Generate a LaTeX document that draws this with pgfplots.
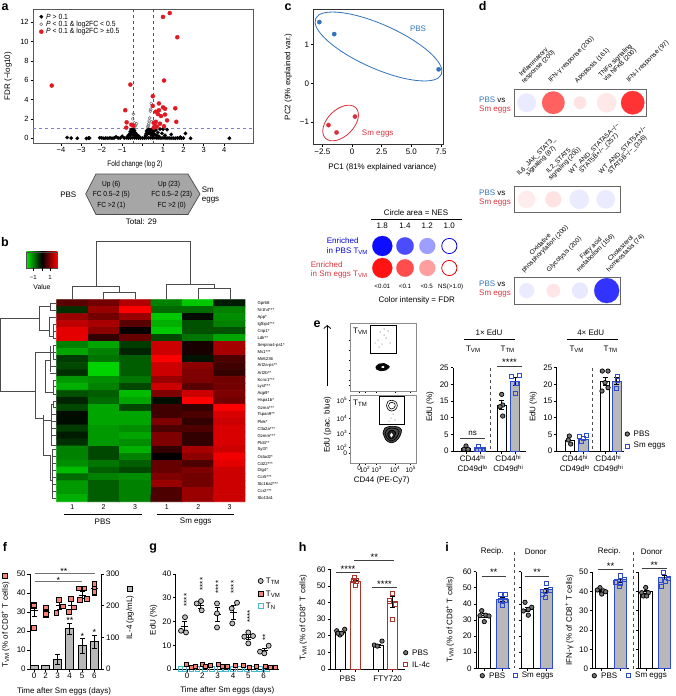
\documentclass[border=0pt]{standalone}
\usepackage{fontspec}
\setmainfont{Liberation Sans}
\usepackage{pgfplots}
\pgfplotsset{compat=1.18}
\usetikzlibrary{shadings,arrows.meta}

\definecolor{bblue}{RGB}{50,115,185}
\definecolor{rred}{RGB}{215,50,60}
\definecolor{smblue}{RGB}{45,75,205}
\definecolor{ilred}{RGB}{175,50,40}
\definecolor{sq}{RGB}{245,130,120}
\definecolor{cy}{RGB}{70,185,205}
\definecolor{gr}{gray}{.72}
\definecolor{dashb}{RGB}{70,70,190}
\definecolor{vred}{RGB}{225,25,35}

\newcommand{\fs}[1]{\fontsize{#1}{#1}\selectfont}
\newcommand{\TVM}{T\textsubscript{VM}}
\newcommand{\TTM}{T\textsubscript{TM}}
\newcommand{\TN}{T\textsubscript{N}}
\newcommand{\tx}[4][]{\node[inner sep=0pt,font=\fs{8},#1] at (#2,#3) {#4};}
\newcommand{\lb}[3]{\node[inner sep=0pt,font=\bfseries\fs{12.5}] at (#1,#2) {#3};}
\newcommand{\sig}[4]{\draw[line width=.6pt,black!75] (#1,#3) -- (#2,#3);
  \node[inner sep=0pt,font=\fs{9.5}] at ({(#1+#2)/2},#3-3.5) {#4};}

% bars, points, error bars (all inside an axis)
\newcommand{\vbar}[3]{\addplot[ybar,#1] coordinates {(#2,#3)};}
\newcommand{\pts}[2]{\addplot[only marks,#1] coordinates {#2};}
\newcommand{\eb}[3]{\addplot[draw=none,mark=none,error bars/.cd,y dir=both,y explicit,
  error bar style={black,line width=.7pt},error mark options={rotate=90,black,mark size=2.5pt}]
  coordinates {(#1,#2) +- (0,#3)};}
\newcommand{\mb}[3]{\eb{#1}{#2}{#3}\addplot[black,line width=.7pt] coordinates {(#1-3.5,#2) (#1+3.5,#2)};}
\newcommand{\bub}[5][]{\addplot[only marks,mark=*,mark size=#4,mark options={fill=#5,draw=#5,line width=.2pt,#1}] coordinates {(#2,#3)};}

\pgfplotsset{
  every axis/.append style={scale only axis,clip=false,tick align=outside,
    major tick length=2.5pt,line width=.7pt,
    tick style={line width=.7pt,black},
    /pgf/number format/assume math mode=true,
    tick label style={font=\fs{8},inner sep=1.5pt}},
  pxbox/.style n args={4}{at={(#1pt,-#4pt)},anchor=south west,
    width={(#2-#1)*1pt},height={(#4-#3)*1pt}},
  pxrange/.style n args={4}{xmin=#1,xmax=#2,ymin=#3,ymax=#4,y dir=reverse},
  open/.style={axis x line*=bottom,axis y line*=left,axis line style={-}},
  bw/.style={bar width=#1pt},
  wb/.style={fill=white,draw=black,line width=.9pt},
  gb/.style={fill=gr,draw=smblue,line width=.9pt},
  rb/.style={fill=white,draw=ilred,line width=.9pt},
  cpbs/.style={mark=*,mark size=2.2pt,mark options={fill=black!55,draw=black,line width=.7pt}},
  ssm/.style={mark=square,mark size=2.1pt,mark options={draw=smblue,line width=.8pt}},
  sil/.style={mark=square,mark size=2.1pt,mark options={draw=ilred,line width=.8pt}},
  rdot/.style={mark=*,mark size=2.1pt,mark options={fill=vred,draw=vred,line width=.2pt}},
  bdot/.style={mark=*,mark size=1.8pt,mark options={fill=black,draw=black,line width=.2pt}},
}

\begin{document}
\begin{tikzpicture}[x=1pt,y=-1pt]
\useasboundingbox (0,0) rectangle (675,696);

%% ---------- a
\begin{axis}[pxbox={33}{253}{9}{143},xmin=-5.37,xmax=5.41,ymin=-.49,ymax=13.37,
  axis line style={black!65,line width=.9pt},
  xtick={-4,-3,-2,-1,0,1,2,3,4},xticklabels={−4,−3,−2,−1,{},1,2,3,4},
  ytick={0,2,4,6,8,10,12},xtick pos=bottom,ytick pos=left,tick label style={font=\fs{7.5}}]
\addplot[dashb,dashed,line width=.8pt] coordinates {(-.46,13.37) (-.46,-.49)};
\addplot[dashb,dashed,line width=.8pt] coordinates {(.52,13.37) (.52,-.49)};
\addplot[dashb!70,dashed,line width=.8pt] coordinates {(-5.37,1) (5.41,1)};
\pts{bdot}{(-3.7,.08)(-3.5,.02)(-3.2,0)(-2.75,-.02)(-2.65,.03)(-2.6,.02)
 (-2.1,.05)(-2,.03)(-1.9,0)(-1.8,.02)(-1.7,0)(-1.6,.03)(-1.5,0)(-1.4,.02)(-1.3,.15)(-1.2,.03)(-1.1,.02)(-1,.2)
 (-.9,.03)(-.8,.05)(-.7,.02)(-.6,.03)(-.5,.05)(-.4,.04)(-.3,.03)(-.2,.02)(-.1,.03)(0,.02)(.1,.03)(.2,.05)(.3,.05)
 (.4,.04)(.5,.03)(.6,.05)(.7,.03)(.8,.03)(.9,.02)(1,.04)(1.1,.03)(1.2,.02)(1.3,.03)(1.4,0)(1.5,.02)(1.6,0)(1.7,.03)
 (1.8,.02)(1.9,0)(2,.02)(2.35,0)(4.25,0)(2.1,.5)
 (-.75,.1)(-.7,.3)(-.65,.2)(-.62,.5)(-.6,.7)(-.58,.35)(-.55,.9)(-.52,.6)(-.5,.8)(-.48,.4)(-.45,.95)(-.42,.6)(-.4,.8)
 (-.38,.3)(-.35,.55)(-.32,.2)(-.3,.4)(-.25,.15)(-.2,.25)(-.15,.1)
 (.12,.1)(.15,.3)(.18,.5)(.2,.75)(.22,.4)(.25,.9)(.28,.6)(.3,.95)(.32,.5)(.35,.8)(.38,.6)(.4,.4)(.42,.9)(.45,.7)(.48,.3)
 (.5,.55)(.55,.75)(.6,.4)(.65,.85)(.7,.3)(.75,.6)(.8,.2)(.85,.95)(.95,.5)(1,.95)(1.1,.3)(1.2,.9)(1.4,.4)(1.85,.12)}
\pts{mark=o,mark size=1.5pt,mark options={black!55,line width=.5pt}}{(-.45,2.5)(-.48,2)(-.4,1.6)(-.35,1.3)(-.3,1.5)(-.42,1.2)
 (.42,3.6)(.4,3)(.38,2.8)(.35,2.1)(.32,1.8)(.3,1.5)(.28,1.3)(.25,1.2)(.45,1.7)}
\pts{rdot}{(-4.45,5.45)(1,12.55)(1.33,12.95)(1.7,10.45)(1.05,5.97)
 (-.6,5.55)(.5,4.35)(.8,3.6)(.5,3.35)(1,3.2)(1.1,3.05)(.65,2.75)(.8,2.9)(1.6,3.1)(-.85,2.9)(.75,2.5)(.9,2.3)(1.1,2.45)
 (1.2,1.85)(1.65,1.7)(-.78,1.65)(-.8,1.1)(-.55,1.4)(.85,1.5)(1.05,1.25)(.55,1.6)(.6,1.3)(.65,1.7)(.7,1.2)(.55,1.1)(-.45,1.3)}
\end{axis}
\begin{axis}[pxbox={33}{253}{9}{143},pxrange={33}{253}{9}{143},hide axis]
\pts{bdot}{(41.3,16.7)}
\pts{mark=o,mark size=1.5pt,mark options={black!55,line width=.5pt}}{(41.3,24.3)}
\pts{rdot}{(41.3,31.7)}
\end{axis}
\tx[anchor=west,font=\fs{7.5},xscale=.91]{46}{16.7}{\textit{P} > 0.1}
\tx[anchor=west,font=\fs{7.5},xscale=.91]{46}{24.3}{\textit{P} < 0.1 \& log2FC < 0.5}
\tx[anchor=west,font=\fs{7.5},xscale=.91]{46}{31.7}{\textit{P} < 0.1 \& log2FC > ±0.5}
\tx[rotate=90]{8}{76}{FDR (−log10)}
\tx[xscale=.8]{135}{164.7}{Fold change (log 2)}
\draw[black!70,fill=black!35,line width=.7pt] (96,174) -- (188,174) -- (200,194) -- (188,214.5) -- (96,214.5) -- (85.7,194) -- cycle;
\tx[font=\fs{7.4},xscale=.89]{111.3}{184.3}{Up (6)}
\tx[font=\fs{7.4},xscale=.89]{111.3}{194.3}{FC 0.5–2 (5)}
\tx[font=\fs{7.4},xscale=.89]{111.3}{206}{FC >2 (1)}
\tx[font=\fs{7.4},xscale=.89]{169}{184.3}{Up (23)}
\tx[font=\fs{7.4},xscale=.89]{171.7}{194.3}{FC 0.5–2 (23)}
\tx[font=\fs{7.4},xscale=.89]{171.7}{206}{FC >2 (0)}
\tx{68.3}{194.7}{PBS}
\tx[anchor=west]{201.7}{189.3}{Sm}
\tx[anchor=west]{201.7}{200}{eggs}
\tx{141.3}{221.7}{Total: 29}

%% ---------- b
\begin{axis}[pxbox={56.7}{245}{299.7}{501.7},xmin=-.5,xmax=5.5,ymin=-.5,ymax=28.5,y dir=reverse,hide axis,
  colormap={gbr}{rgb255=(0,235,0) rgb255=(0,0,0) rgb255=(255,0,0)},colormap name=gbr,
  point meta min=-1,point meta max=1]
\addplot[matrix plot*,mesh/cols=6,point meta=explicit] table[meta=c,row sep=\\] {
x y c\\
0 0 .35\\1 0 .45\\2 0 .7\\3 0 -.55\\4 0 -.85\\5 0 -.12\\
0 1 -.2\\1 1 .6\\2 1 1\\3 1 -.45\\4 1 -.45\\5 1 -.55\\
0 2 .6\\1 2 .45\\2 2 .6\\3 2 -.85\\4 2 -.05\\5 2 -.6\\
0 3 .75\\1 3 .65\\2 3 .35\\3 3 -.75\\4 3 -.35\\5 3 -.55\\
0 4 .9\\1 4 .55\\2 4 .03\\3 4 -.85\\4 4 -.35\\5 4 -.35\\
0 5 .9\\1 5 .2\\2 5 .4\\3 5 -.3\\4 5 -.5\\5 5 -.7\\
0 6 -.55\\1 6 -.7\\2 6 -.25\\3 6 .8\\4 6 .1\\5 6 .65\\
0 7 -.7\\1 7 -.55\\2 7 -.15\\3 7 .8\\4 7 .1\\5 7 .65\\
0 8 -.25\\1 8 -.5\\2 8 -.4\\3 8 1\\4 8 -.08\\5 8 .3\\
0 9 -.3\\1 9 -.9\\2 9 -.4\\3 9 .8\\4 9 .55\\5 9 .25\\
0 10 -.2\\1 10 -.9\\2 10 -.4\\3 10 .8\\4 10 .5\\5 10 .2\\
0 11 -.65\\1 11 -.6\\2 11 -.5\\3 11 .6\\4 11 .5\\5 11 .45\\
0 12 -.75\\1 12 -.55\\2 12 -.3\\3 12 .8\\4 12 .35\\5 12 .45\\
0 13 -.35\\1 13 -.4\\2 13 -.8\\3 13 .5\\4 13 .8\\5 13 .5\\
0 14 -.15\\1 14 -.45\\2 14 -.7\\3 14 -.06\\4 14 1\\5 14 .45\\
0 15 -.3\\1 15 -.7\\2 15 -.3\\3 15 .25\\4 15 .2\\5 15 1\\
0 16 -.05\\1 16 -.7\\2 16 -.7\\3 16 .25\\4 16 .3\\5 16 .85\\
0 17 -.05\\1 17 -.7\\2 17 -.7\\3 17 .5\\4 17 .2\\5 17 .8\\
0 18 -.25\\1 18 -.65\\2 18 -.6\\3 18 .3\\4 18 .3\\5 18 .85\\
0 19 -.12\\1 19 -.65\\2 19 -.7\\3 19 .5\\4 19 .2\\5 19 .85\\
0 20 -.2\\1 20 -.65\\2 20 -.6\\3 20 .5\\4 20 .2\\5 20 .85\\
0 21 -.55\\1 21 -.3\\2 21 -.75\\3 21 .2\\4 21 .65\\5 21 .8\\
0 22 -.55\\1 22 -.3\\2 22 -.55\\3 22 0\\4 22 .55\\5 22 .95\\
0 23 -.6\\1 23 -.5\\2 23 -.4\\3 23 .4\\4 23 .3\\5 23 .9\\
0 24 -.8\\1 24 -.4\\2 24 -.3\\3 24 .4\\4 24 .5\\5 24 .8\\
0 25 -.45\\1 25 -.55\\2 25 -.6\\3 25 .5\\4 25 .45\\5 25 .8\\
0 26 -.65\\1 26 -.4\\2 26 -.55\\3 26 .6\\4 26 .45\\5 26 .8\\
0 27 -.65\\1 27 -.4\\2 27 -.55\\3 27 .3\\4 27 .6\\5 27 .8\\
0 28 -.75\\1 28 -.4\\2 28 -.55\\3 28 .3\\4 28 .6\\5 28 .8\\
};
\end{axis}
% dendrograms
\begin{scope}[line width=.55pt,black!70]
\draw (72.3,299.3) |- (119.3,286) -- (119.3,292.3);
\draw (103.5,299.3) |- (135,292.3) -- (135,299.3);
\draw (96,286) |- (190.7,241) -- (190.7,284);
\draw (166.7,299.3) |- (214.3,284) -- (214.3,288.3);
\draw (198.3,299.3) |- (230,288.3) -- (230,299.3);
\draw (39.3,318.3) -| (0.4,391.7) -- (35.7,391.7);
\draw (56,303.2) -| (50,310.2) -- (56,310.2);
\draw (50,306.7) -| (39.3,330) -- (49.3,330);
\draw (56,317.1) -| (49.3,336) -- (53,336);
\draw (56,324.1) -| (53,338) -- (56,338);
\draw (56,331.1) -- (53,331.1);
\draw (50,352) -| (35.7,418) -- (43,418);
\draw (56,345) -| (53,359) -- (56,359);
\draw (56,352) -- (53,352);
\draw (53,352) -- (50,352);
\draw (50,346) -- (50,372);
\draw (56,365.9) -- (50,365.9);
\draw (56,372.9) -- (50,372.9);
\draw (56,386) -- (53,386);
\draw (50,360) -- (45,360) -- (45,392) -- (53,392);
\draw (56,393.8) -| (53,379.9) -- (56,379.9);
\draw (43,418) -- (43,455) -- (50,455);
\draw (43,418) -- (43,415);
\draw (56,400.8) -| (53,407.7) -- (56,407.7);
\draw (53,404) -- (51,404) -- (51,445) -- (56,445);
\draw (43,420) -- (51,420);
\draw (56,414.7) -- (52,414.7);
\draw (56,421.7) -- (52,421.7);
\draw (56,428.6) -- (52,428.6);
\draw (56,435.6) -- (52,435.6);
\draw (56,449.5) -| (52.5,498.3) -- (56,498.3);
\draw (50,455) -- (50,480) -- (52.5,480);
\draw (56,456.5) -- (52.5,456.5);
\draw (56,463.5) -- (52.5,463.5);
\draw (56,470.4) -- (52.5,470.4);
\draw (56,477.4) -- (52.5,477.4);
\draw (56,484.4) -- (52.5,484.4);
\draw (56,491.4) -- (52.5,491.4);
\end{scope}
\shade[left color=green!90!black,right color=red,middle color=black,draw=black!70,line width=.4pt] (26.3,251.7) rectangle (57.3,267.7);
\foreach \xx in {33.3,41.7,50} {\draw[line width=.4pt] (\xx,267.7) -- (\xx,270.5);}
\tx[font=\fs{6}]{33.3}{277.7}{−1}
\tx[font=\fs{6}]{50}{277.7}{1}
\tx[font=\fs{6.9}]{42}{287}{Value}
\foreach \gn [count=\ii from 0] in {Gpr68,Nr1h4***,App*,Igfbp4***,Crip1*,Ldlr**,Serpina4-ps1*,Ms1***,Mir6236,Art2a-ps**,Art2b**,Kcnc1***,Lyst***,Aqp9*,Hspa1b*,Gzma***,Tspan9**,Plek*,Ctla2a***,Gzmm***,Pld4**,Syt3*,Oclad2*,Cd22***,Dlg4*,Ccr5***,Slc16a2***,Ccr2***,Slc43a1}
 {\node[inner sep=0pt,anchor=west,font=\fs{4.3}] at (257.3,{303.2+6.97*\ii}) {\gn};}
\foreach \xx/\tt in {72.3/1,103.5/2,135/3,166.8/1,198.3/2,229.5/3} {\tx[font=\fs{7}]{\xx}{507.3}{\tt}}
\draw[line width=.5pt] (64,514.3) -- (141.7,514.3) (156.7,514.3) -- (234.3,514.3);
\tx{102.7}{521.7}{PBS}
\tx{195.7}{521.7}{Sm eggs}

%% ---------- c
\begin{axis}[pxbox={313.3}{443.3}{9.3}{144.3},xmin=-3.26,xmax=7.69,ymin=-1.576,ymax=1.91,
  axis line style={black!80},xtick={-2.5,0,2.5,5,7.5},xticklabels={−2.5,0,2.5,5.0,7.5},
  ytick={-1,0,1},yticklabels={−1,0,1},xtick pos=bottom,ytick pos=left]
\pts{mark=*,mark size=2.2pt,mark options={fill=bblue,draw=bblue,line width=.2pt}}{(-2.75,1.58)(-1.5,1.27)(7.3,.36)}
\pts{mark=*,mark size=2.2pt,mark options={fill=rred,draw=rred,line width=.2pt}}{(.25,-.86)(-1.98,-1.08)(-1.3,-1.27)}
\end{axis}
\draw[bblue,line width=.8pt,rotate around={-24:(378.5,46.5)}] (378.5,46.5) ellipse [x radius=68.8,y radius=22];
\draw[rred,line width=.8pt,rotate around={45:(340.6,123)}] (340.6,123) ellipse [x radius=21.5,y radius=13.2];
\tx[rotate=90]{288.3}{77}{PC2 (9\% explained var.)}
\tx{382.4}{167.3}{PC1 (81\% explained variance)}
\tx[text=bblue]{418}{29}{PBS}
\tx[text=rred]{377.7}{134}{Sm eggs}

\tx{416}{212.3}{Circle area = NES}
\draw[line width=.7pt] (371,219.7) -- (461.7,219.7);
\foreach \xx/\tt in {382.3/1.8,405/1.4,427.3/1.2,449.3/1.0} {\tx{\xx}{225.7}{\tt}}
\begin{axis}[pxbox={370}{462}{235}{280},pxrange={370}{462}{235}{280},hide axis]
\bub{382.3}{246}{10}{blue!95}
\bub{405}{246}{8.7}{blue!70}
\bub{427.3}{246}{8}{blue!38}
\bub[draw=blue!90!black,line width=.8pt]{449.3}{246}{7.6}{white}
\bub{382.3}{268}{10}{red!92}
\bub{405}{268}{8.7}{red!70}
\bub{427.3}{268}{8}{red!38}
\bub[draw=red!90!black,line width=.8pt]{449.3}{268}{7.6}{white}
\end{axis}
\tx[anchor=west,text=blue!85!black]{326.7}{241}{Enriched}
\tx[anchor=west,text=blue!85!black]{326.7}{251}{in PBS \TVM}
\tx[anchor=west,text=rred]{310.7}{264.3}{Enriched}
\tx[anchor=west,text=rred]{310.7}{274.3}{in Sm eggs \TVM}
\foreach \xx/\tt in {382.3/{<0.01},405/{<0.1},426.7/{<0.5},450.7/{NS(>1.0)}} {\tx[font=\fs{6.2}]{\xx}{286.7}{\tt}}
\tx{416.7}{300.3}{Color intensity = FDR}

%% ---------- d
\newcommand{\dlab}[3]{\node[inner sep=0pt,anchor=south west,rotate=45,align=center,font=\fs{6.5}] at (#1,#2) {#3};}
\begin{axis}[pxbox={514}{646}{89.3}{116},pxrange={514}{646}{89.3}{116},ticks=none,axis line style={black!60,line width=.9pt}]
\bub{526.7}{102.7}{9.3}{blue!8}
\bub{553.3}{102.7}{11.3}{red!62}
\bub{580}{102.7}{6.3}{red!11}
\bub{606.7}{102.7}{9.7}{red!9}
\bub{632.7}{102.7}{11.7}{red!80}
\end{axis}
\begin{axis}[pxbox={514}{620.7}{186}{212.7},pxrange={514}{620.7}{186}{212.7},ticks=none,axis line style={black!60,line width=.9pt}]
\bub{526.7}{199.3}{8.7}{red!7}
\bub{553.3}{199.3}{8}{red!11}
\bub{579.3}{199.3}{9.7}{blue!8}
\bub{605.7}{199.3}{9.3}{blue!8}
\end{axis}
\begin{axis}[pxbox={514}{620.7}{277.3}{304},pxrange={514}{620.7}{277.3}{304},ticks=none,axis line style={black!60,line width=.9pt}]
\bub{526.7}{290.6}{7.5}{blue!8}
\bub{553.3}{290.6}{6.7}{red!10}
\bub{580}{290.6}{8}{blue!9}
\bub{606.7}{290.6}{12.5}{blue!80}
\end{axis}
\dlab{525}{85}{Inflammatory\\response (200)}
\dlab{551.7}{84}{IFN-γ response (200)}
\dlab{578.3}{84.3}{Apoptosis (161)}
\dlab{606.7}{83.3}{TNFα signaling\\via NFκB (200)}
\dlab{630}{84}{IFN-I response (97)}
\dlab{525}{181.7}{IL6\_JAK\_STAT3\_\\signaling (87)}
\dlab{551.7}{181.7}{IL2\_STAT5\_\\signaling (200)}
\dlab{577}{180}{WT\_AND\_STATA5A−/−\\STAT5B+/−\_(257)}
\dlab{607}{180}{WT\_AND\_STAT5A+/−\\STAT5B−/−\_(336)}
\dlab{525}{274}{Oxidative\\phosphorylation (200)}
\dlab{550}{273.3}{Glycolysis (200)}
\dlab{580}{273.3}{Fatty acid\\metabolism (156)}
\dlab{610}{273.3}{Cholesterol\\homeostasis (74)}
\foreach \yy in {99.3,192.7,283.7} {\tx[anchor=west]{479}{\yy}{\textcolor{bblue}{PBS} vs}}
\foreach \yy in {110,202.7,294} {\tx[anchor=west,text=rred]{479}{\yy}{Sm eggs}}

%% ---------- e flow plots
\begin{axis}[pxbox={350}{416.7}{323.3}{391.3},pxrange={350}{416.7}{323.3}{391.3},axis line style={black!45,line width=1pt},
  xtick={359.3,365,376.7,395,410.7},xticklabels={},ytick={340,350,360,370,380,385},yticklabels={},
  xtick pos=bottom,ytick pos=left,major tick length=1.5pt]
\addplot[black,line width=.7pt] coordinates {(370.7,325.3)(396,325.3)(396,353.7)(370.7,353.7)(370.7,325.3)};
\pts{mark=*,mark size=.25pt,black!35}{(380,332)(384,335)(388,331)(378,340)(382,344)(386,338)(379,347)(375,343)(390,343)(384,329)}
\addplot[black,fill=black,smooth,tension=1] coordinates {(376,367)(379,364)(384,363.5)(388,365.5)(389,367.5)(386,370)(381,370.8)(377,369.5)(376,367)};
\addplot[white,fill=white,smooth] coordinates {(381.5,367)(383,366.3)(384,367)(383,367.8)(381.5,367)};
\end{axis}
\begin{axis}[pxbox={350}{416.7}{395.3}{463.3},pxrange={350}{416.7}{395.3}{463.3},axis line style={black!45,line width=1pt},
  xtick={359.3,365,376.7,395,410.7},xticklabels={0,10\textsuperscript{2},10\textsuperscript{3},10\textsuperscript{4},10\textsuperscript{5}},
  ytick={400.7,418,433.7,447.3,453.7},yticklabels={10\textsuperscript{5},10\textsuperscript{4},10\textsuperscript{3},10\textsuperscript{2},0},
  xtick pos=bottom,ytick pos=left,major tick length=1.5pt,tick label style={font=\fs{6.6},inner sep=1pt}]
\addplot[black,line width=.7pt] coordinates {(379,396.3)(404.7,396.3)(404.7,424.7)(379,424.7)(379,396.3)};
\addplot[black,smooth,line width=.6pt] coordinates {(386.5,405.5)(388,401.5)(392,400.3)(396,402)(397.3,405.7)(395.5,409.5)(391.5,411)(388,409.3)(386.5,405.5)};
\addplot[black,smooth,line width=.6pt] coordinates {(388.5,405.5)(390,402.8)(392.3,402.3)(394.8,403.5)(395.2,405.8)(394,408)(391.5,409)(389.5,408)(388.5,405.5)};
\pts{mark=*,mark size=.25pt,black!35}{(393,414)(391,418)(389,421)(395,420)}
\addplot[black,fill=black!70,smooth,line width=.7pt] coordinates {(383,433)(385,428)(391,426.3)(398,427)(401.5,430)(400,436)(396,441)(391,442.8)(386,440)(383,433)};
\addplot[black,smooth,line width=.7pt] coordinates {(385,433.5)(387,429.5)(392,428)(397.5,429.3)(399,431.5)(397.5,436)(394,440)(391,441)(387,438)(385,433.5)};
\addplot[black,fill=black!85,smooth] coordinates {(387.5,434)(389.5,431)(393,430.5)(395.5,432.5)(394.5,436.5)(391.5,439)(389,437.5)(387.5,434)};
\addplot[white,fill=white,smooth] coordinates {(390.5,435)(391.5,433.5)(392.5,435)(391.5,436.8)(390.5,435)};
\end{axis}
\tx[anchor=west]{353}{331}{\TVM}
\tx[anchor=west]{353}{403}{\TTM}
\draw[-{Straight Barb[length=3pt,width=7pt]},line width=.8pt] (327.3,386) -- (327.3,325);
\tx[rotate=90]{327.5}{424.7}{EdU (pac. blue)}
\tx{381.7}{480}{CD44 (PE-Cy7)}

%% ---------- e bars
\begin{axis}[pxbox={453}{526}{367.7}{451},xmin=453,xmax=526,ymin=0,ymax=25,open,bw=9.5,
  xtick={466,480,501.7,515},xticklabels={},ytick={0,5,10,15,20,25}]
\vbar{wb}{466}{.9}\vbar{gb}{480}{.8}\vbar{wb}{501.7}{13.8}\vbar{gb}{515}{21}
\eb{501.7}{13.8}{1.3}\eb{515}{21}{1.3}
\pts{cpbs}{(466,1.5)(464,.5)(468,.5)(501.7,17)(502.7,13.8)(500,13.3)(502.7,10.5)}
\pts{ssm}{(478.5,1.5)(476.5,.5)(480.5,.5)(483,.5)(519,22.7)(511.7,22.3)(516.7,20.3)(515,17.3)}
\end{axis}
\begin{axis}[pxbox={556.7}{624}{367.7}{451},xmin=556.7,xmax=624,ymin=0,ymax=25,open,bw=9.5,
  xtick={570,583.3,605,616.7},xticklabels={},ytick={0,5,10,15,20,25}]
\vbar{wb}{570}{3.3}\vbar{gb}{583.3}{3.5}\vbar{wb}{605}{21}\vbar{gb}{616.7}{21}
\eb{605}{21}{1.3}\eb{616.7}{21}{1}
\pts{cpbs}{(569.3,4.5)(568.3,3.3)(570.7,2.1)(602.3,24)(608,24)(605,20.5)(608,19)(602,18)}
\pts{ssm}{(579,4.3)(586,4.7)(583.3,3.8)(581.3,2.8)(617.7,22.3)(617.7,21.3)(616.7,18.8)}
\end{axis}
\draw[black!70,dashed,line width=.9pt] (490.7,367.7) -- (490.7,451) (592.7,367.7) -- (592.7,451);
\tx{489}{332.3}{1× EdU}
\draw[line width=.7pt] (464,339.3) -- (515.3,339.3) (566.7,339.3) -- (617.7,339.3);
\tx{590.7}{332.3}{4× EdU}
\tx{473.3}{349.3}{\TVM}\tx{507.7}{349.3}{\TTM}\tx{576.7}{349.3}{\TVM}\tx{610.7}{349.3}{\TTM}
\sig{460}{485}{438}{}\tx{472.7}{433.3}{ns}
\sig{497.3}{521.7}{366}{****}
\tx[rotate=90]{430}{406.7}{EdU (\%)}
\tx[rotate=90]{533.3}{406.7}{EdU (\%)}
\foreach \xx in {472.7,508.3,575,608.3} {\tx{\xx}{458.3}{CD44\textsuperscript{hi}}}
\tx{472.7}{468.3}{CD49d\textsuperscript{lo}}\tx{508.3}{468.3}{CD49d\textsuperscript{hi}}
\tx{575}{468.3}{CD49d\textsuperscript{lo}}\tx{608.3}{468.3}{CD49d\textsuperscript{hi}}
\begin{axis}[pxbox={620}{635}{428}{452},pxrange={620}{635}{428}{452},hide axis]
\pts{cpbs}{(627.3,434)}\pts{ssm}{(627.3,446)}
\end{axis}
\tx[anchor=west]{633.5}{434}{PBS}
\tx[anchor=west]{633.5}{446}{Sm eggs}

%% ---------- f
\begin{axis}[pxbox={30}{101.7}{574}{669},xmin=30,xmax=101.7,ymin=0,ymax=300,
  axis x line=none,axis y line*=right,axis line style={-},ytick={0,100,200,300},bw=8]
\vbar{fill=gr,draw=black,line width=.8pt}{34}{10}
\vbar{fill=gr,draw=black,line width=.8pt}{45.7}{10}
\vbar{fill=gr,draw=black,line width=.8pt}{57.7}{31}
\vbar{fill=gr,draw=black,line width=.8pt}{69.7}{128}
\vbar{fill=gr,draw=black,line width=.8pt}{82}{74}
\vbar{fill=gr,draw=black,line width=.8pt}{94.3}{86}
\eb{57.7}{31}{16}\eb{69.7}{128}{17}\eb{82}{74}{24}\eb{94.3}{86}{21}
\end{axis}
\begin{axis}[pxbox={30}{101.7}{574}{669},xmin=30,xmax=101.7,ymin=0,ymax=50,open,
  xtick={34,45.7,57.7,69.7,82,94.3},xticklabels={0,2,3,4,5,6},ytick={0,10,20,30,40,50}]
\mb{34}{31}{3}\mb{46}{30}{1}\mb{59}{33.5}{2}\mb{71}{33.5}{2}\mb{82.5}{39}{1.7}\mb{94.3}{42.5}{1.2}
\pts{mark=square*,mark size=2.4pt,mark options={fill=sq,draw=black,line width=.6pt}}{(34,34)(34,33)(34,33.5)(34,21.5)
 (46,32.5)(46,29.5)(46,28.5)(46,29)
 (56.3,29.5)(59,36.5)(63,33)
 (69,30)(70.7,37)(74,32.5)
 (80,36.5)(78.7,42.5)(84.3,42.5)(86.7,37)
 (94.3,40)(94.3,42.5)(94.3,45)(94.3,40.5)}
\end{axis}
\draw[black!55,line width=.7pt] (35,573.3) -- (95,573.3);
\draw[black!55,line width=.7pt] (35,581) -- (82,581);
\tx[font=\fs{9}]{64}{571.3}{**}\tx[font=\fs{9}]{58.5}{580}{*}
\tx[font=\fs{9}]{70}{620.1}{**}\tx[font=\fs{9}]{82.5}{636.8}{*}\tx[font=\fs{9}]{94.5}{632.5}{*}
\begin{axis}[pxbox={0}{135}{570}{600},pxrange={0}{135}{570}{600},hide axis]
\pts{mark=square*,mark size=2.4pt,mark options={fill=sq,draw=black,line width=.6pt}}{(5,576)}
\pts{mark=square*,mark size=2.4pt,mark options={fill=gr,draw=black,line width=.6pt}}{(129.5,589)}
\end{axis}
\tx[rotate=90]{5.5}{625}{\TVM{} (\% of CD8\textsuperscript{+} T cells)}
\tx[rotate=90]{130}{617.5}{IL-4 (pg/mL)}
\tx{64}{691.3}{Time after Sm eggs (days)}

%% ---------- g
\begin{axis}[pxbox={175.7}{279}{574}{669},xmin=175.7,xmax=279,ymin=0,ymax=40,open,
  xtick={187,202.3,217.7,233,248.3,263.7},xticklabels={0,2,3,4,5,6},ytick={0,10,20,30,40}]
\pts{mark=square,mark size=2.2pt,mark options={draw=cy,line width=.8pt}}{(180.3,.1)(184.3,0)(191.3,0)(197.3,0)(205,0)(212,0)(220,0)(226,0)(233,0)(240,0)(247,0)(254,0)(260,0)(266.7,0)}
\mb{184}{18}{2.2}\mb{200}{27}{1.2}\mb{217}{23}{3}\mb{233.5}{24}{3}\mb{248.3}{13.5}{1}\mb{264.3}{7.7}{1}
\pts{mark=*,mark size=2.5pt,mark options={fill=black!25,draw=black,line width=.7pt}}{(181,16.1)(185,21.8)(186,15.4)
 (196.7,27.6)(201,28.6)(201.7,24.7)
 (217,27.6)(217,23.4)(217,17.5)
 (231.7,25.5)(232.3,19.2)(237,27.9)
 (244.3,13.6)(248.3,15.4)(248.3,10.8)(253,13.9)
 (260,7.3)(264.3,6.6)(268.7,9.8)}
\pts{mark=square*,mark size=2pt,mark options={fill=sq,draw=black,line width=.6pt}}{(186.7,2.1)(191,.6)(195,1)(202.3,1.8)(205.7,1)(210.7,1.4)(218.3,1.8)(222.7,1)(227.7,1.3)(235.7,1.5)(243.7,1.4)(249.7,.8)(256,1)(265,1)(270.3,.7)(275,.6)}
\end{axis}
\begin{axis}[pxbox={255}{268}{575}{612},pxrange={255}{268}{575}{612},hide axis]
\pts{mark=*,mark size=2.5pt,mark options={fill=black!25,draw=black,line width=.7pt}}{(260.7,581)}
\pts{mark=square*,mark size=2.4pt,mark options={fill=sq,draw=black,line width=.6pt}}{(260.7,593.7)}
\pts{mark=square,mark size=2.4pt,mark options={draw=cy,line width=.8pt}}{(260.7,606)}
\end{axis}
\tx[anchor=west]{265.7}{581.5}{\TTM}\tx[anchor=west]{265.7}{594.2}{\TVM}\tx[anchor=west]{265.7}{606.5}{\TN}
\foreach \xx/\yy/\ss in {185/600/****,201/584/****,216.7/587/****,232/587/****,248.3/616.7/****,263.7/637/**}
 {\node[inner sep=0pt,rotate=90,font=\fs{8}] at (\xx+1.6,\yy) {\ss};}
\tx[rotate=90]{153.5}{620}{EdU (\%)}
\tx{227.3}{690.7}{Time after Sm eggs (days)}

%% ---------- h
\begin{axis}[pxbox={330}{405}{569.3}{669},xmin=330,xmax=405,ymin=0,ymax=60,open,bw=10,
  xtick={340.3,355,378.3,392.7},xticklabels={},ytick={0,10,20,30,40,50,60}]
\vbar{wb}{340.3}{22}\vbar{rb}{355}{52.5}\vbar{wb}{378.3}{14}\vbar{rb}{392.7}{40.5}
\eb{340.3}{22}{1}\eb{355}{52.5}{1}\eb{378.3}{14}{1}\eb{392.7}{40.5}{3.3}
\pts{cpbs}{(336.7,23)(340,20.5)(344.7,23.9)(338,21.5)(341.7,21.5)(374.3,14.4)(377.3,13.8)(382,16.8)}
\pts{sil}{(354.3,55)(353.3,53.5)(356.7,53)(355,50.5)(392.7,45.5)(389,41)(395,39)(392.7,30)}
\end{axis}
\sig{336}{360}{572.3}{****}
\sig{354.3}{394.3}{560.3}{**}
\sig{372.3}{396.7}{587.3}{****}
\tx[rotate=90]{303}{618}{\TVM{} (\% of CD8\textsuperscript{+} T cells)}
\tx{347.7}{679}{PBS}\tx{387.7}{679}{FTY720}
\begin{axis}[pxbox={400}{412}{648}{670},pxrange={400}{412}{648}{670},hide axis]
\pts{cpbs}{(405.7,652.7)}\pts{sil}{(405.7,664.3)}
\end{axis}
\tx[anchor=west]{412}{652.7}{PBS}\tx[anchor=west]{412}{664.7}{IL-4c}

%% ---------- i
\begin{axis}[pxbox={476}{510}{571.7}{668.3},xmin=476,xmax=510,ymin=0,ymax=60,open,bw=12,
  xtick={484.3,502.7},xticklabels={},ytick={0,10,20,30,40,50,60}]
\vbar{wb}{484.3}{33}\vbar{gb}{502.7}{43}\eb{484.3}{33}{1}\eb{502.7}{43}{1.2}
\pts{cpbs}{(481.7,35.8)(485.7,33)(489,32.5)(480,32.7)(484.3,29)}
\pts{ssm}{(500,46)(505.7,46)(500,42)(505.7,42)(502.7,39)}
\end{axis}
\begin{axis}[pxbox={521}{551.7}{571.7}{668.3},xmin=521,xmax=551.7,ymin=0,ymax=60,open,bw=12,
  xtick={527.7,546},xticklabels={},ytick={0,10,20,30,40,50,60},yticklabels={}]
\vbar{wb}{527.7}{36.6}\vbar{gb}{546}{48.7}\eb{527.7}{36.6}{1.2}\eb{546}{48.7}{1.3}
\pts{cpbs}{(525,41)(531.7,37.9)(528.3,36.6)(523.3,35.6)(528.3,33)}
\pts{ssm}{(546,52.8)(550,48.7)(545.7,47.6)(542.7,46)(545,44)}
\end{axis}
\begin{axis}[pxbox={592.3}{629.3}{572}{668.7},xmin=592.3,xmax=629.3,ymin=0,ymax=50,open,bw=12,
  xtick={601.7,620.3},xticklabels={},ytick={0,10,20,30,40,50}]
\vbar{wb}{601.7}{40.2}\vbar{gb}{620.3}{45.9}\eb{601.7}{40.2}{.6}\eb{620.3}{45.9}{1}
\pts{cpbs}{(600,41.9)(603.3,40.3)(605.7,39.8)(601.7,38.6)(597.3,40.7)}
\pts{ssm}{(620,48)(624,46.2)(615,44.7)(620,44.1)(619.3,42.4)}
\end{axis}
\begin{axis}[pxbox={638.3}{670}{572}{668.7},xmin=638.3,xmax=670,ymin=0,ymax=50,open,bw=12,
  xtick={646,664},xticklabels={},ytick={0,10,20,30,40,50},yticklabels={}]
\vbar{wb}{646}{39.7}\vbar{gb}{664}{47.2}\eb{646}{39.7}{.7}\eb{664}{47.2}{1}
\pts{cpbs}{(645.7,42)(641.7,39.3)(648.3,39.3)(643.3,37.6)(646.7,37.6)}
\pts{ssm}{(663.7,49.7)(668.3,46.7)(660,45.9)(665,45)(661.7,42.4)}
\end{axis}
\draw[black!70,dashed,line width=.9pt] (514.3,551.7) -- (514.3,668.3) (633.3,551.7) -- (633.3,668.7);
\tx{492.3}{551.3}{Recip.}\tx{535.7}{551.3}{Donor}\tx{609.3}{551.3}{Recip.}\tx{651.7}{551.3}{Donor}
\sig{481.7}{505.7}{576}{**}\sig{525}{549}{576}{**}\sig{598.3}{622.7}{569.7}{**}\sig{641.7}{666.7}{568.3}{**}
\tx[rotate=90]{450}{620}{\TVM{} (\% of CD8\textsuperscript{+} T cells)}
\tx[rotate=90]{569.5}{620}{IFN-γ (\% of CD8\textsuperscript{+} T cells)}
\begin{axis}[pxbox={478}{635}{670}{682},pxrange={478}{635}{670}{682},hide axis]
\pts{cpbs}{(482.3,675.7)(594.3,675.7)}\pts{ssm}{(515.7,675.7)(628.3,675.7)}
\end{axis}
\tx[anchor=west]{489}{676}{PBS}\tx[anchor=west]{521.7}{676}{Sm eggs}
\tx[anchor=west]{601}{676}{PBS}\tx[anchor=west]{635}{676}{Sm eggs}

%% ---------- panel letters
\lb{5}{7}{a}\lb{5}{242}{b}\lb{288}{7}{c}\lb{482.7}{6}{d}\lb{317}{324}{e}\lb{5}{546.7}{f}\lb{153.3}{548}{g}\lb{302.7}{547}{h}\lb{447}{547}{i}
\end{tikzpicture}
\end{document}
